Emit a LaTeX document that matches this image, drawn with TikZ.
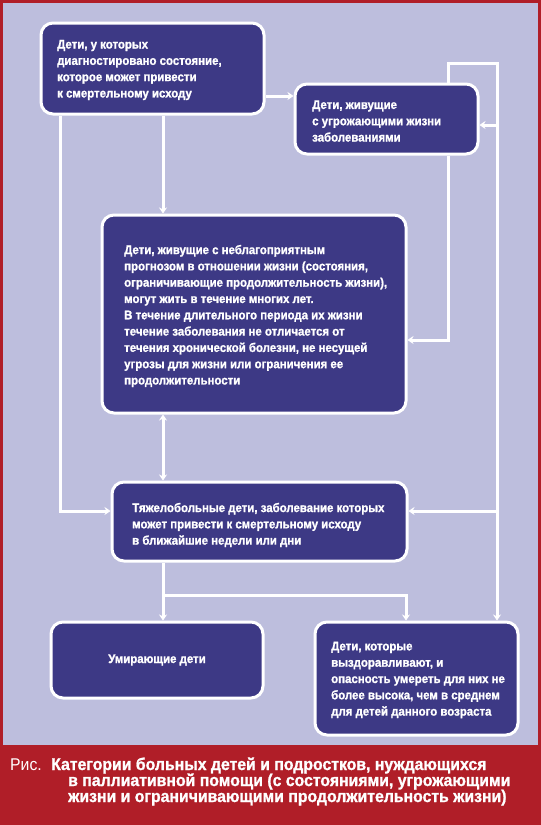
\documentclass[tikz,border=0pt]{standalone}
\usepackage{fontspec}
\setmainfont{Liberation Sans}
\newfontfamily\bx[FakeStretch=0.915, BoldFeatures={FakeBold=1.2}]{Liberation Sans}
\newfontfamily\cx[FakeStretch=0.93, BoldFeatures={FakeBold=1.2}]{Liberation Sans}
\usetikzlibrary{arrows.meta}
\definecolor{lav}{RGB}{189,190,221}
\definecolor{navy}{RGB}{61,57,133}
\definecolor{redd}{RGB}{176,30,40}
\begin{document}
\begin{tikzpicture}[x=1pt,y=-1pt,
  box/.style={draw=white, line width=3pt, fill=navy, rounded corners=12pt, inner sep=0pt},
  txt/.style={text=white, align=left, inner sep=0pt, anchor=west,
    font=\bx\bfseries\fontsize{12.5}{16.3}\selectfont},
  conn/.style={draw=white, line width=3pt, -{Stealth[length=6pt,width=8pt]}},
  dconn/.style={draw=white, line width=3pt, {Stealth[length=6pt,width=8pt]}-{Stealth[length=6pt,width=8pt]}},
  captxt/.style={text=white, inner sep=0pt, anchor=base west, font=\cx\bfseries\fontsize{17}{16.3}\selectfont}]
\useasboundingbox (0,0) rectangle (541,825);
\fill[redd] (0,0) rectangle (541,825);
\fill[lav] (3,3) rectangle (538,745);

% boxes
\node[box, minimum width=223pt, minimum height=91pt] (A) at (152.5,68.5) {};
\node[box, minimum width=183pt, minimum height=70pt] (B) at (386.5,119) {};
\node[box, minimum width=304pt, minimum height=198pt] (C) at (254,314) {};
\node[box, minimum width=295pt, minimum height=79pt] (D) at (259.5,521.5) {};
\node[box, minimum width=212pt, minimum height=76pt, text=white,
  font=\bx\bfseries\fontsize{12.5}{16.3}\selectfont] (E) at (157,660) {Умирающие дети};
\node[box, minimum width=203pt, minimum height=113pt] (F) at (416.5,678.5) {};

% texts
\node[txt] (At) at (57,70) {Дети, у которых\\диагностировано состояние,\\которое может привести\\к смертельному исходу};
\node[txt] (Bt) at (312,121) {Дети, живущие\\с угрожающими жизни\\заболеваниями};
\node[txt] (Ct) at (124,316) {Дети, живущие с неблагоприятным\\прогнозом в отношении жизни (состояния,\\ограничивающие продолжительность жизни),\\могут жить в течение многих лет.\\В течение длительного периода их жизни\\течение заболевания не отличается от\\течения хронической болезни, не несущей\\угрозы для жизни или ограничения ее\\продолжительности};
\node[txt] (Dt) at (132,525) {Тяжелобольные дети, заболевание которых\\может привести к смертельному исходу\\в ближайшие недели или дни};
\node[txt] (Ft) at (331,680) {Дети, которые\\выздоравливают, и\\опасность умереть для них не\\более высока, чем в среднем\\для детей данного возраста};

% junction coordinates
\coordinate (jB) at (497,125);
\coordinate (jD) at (497,511);
\coordinate (jL) at (60,511);
\coordinate (jE) at (163,595);
\coordinate (jC) at (448,340);

% connectors
\draw[conn] (A.east |- 0,96) -- (B.west |- 0,96);
\draw[conn] (A.south -| 163,0) -- (C.north -| 163,0);
\draw[conn] (A.south -| 60,0) -- (jL) -- (D.west |- jL);
\draw[conn] (B.south -| jC) -- (jC) -- (C.east |- jC);
\draw[conn] (B.north -| 448,0) -- (448,63) -- (497,63) -- (F.north -| 497,0);
\draw[conn] (jB) -- (B.east |- jB);
\draw[conn] (jD) -- (D.east |- jD);
\draw[dconn] (C.south -| 163,0) -- (D.north -| 163,0);
\draw[conn] (D.south -| 163,0) -- (E.north -| 163,0);
\draw[conn] (jE) -- (406,595) -- (F.north -| 406,0);

% caption
\node[captxt, font=\cx\fontsize{17}{16.3}\selectfont] (cr) at (10,770) {Рис.};
\node[captxt] (c1) at (51,770) {Категории больных детей и подростков, нуждающихся};
\node[captxt] (c2) at (68,786) {в паллиативной помощи (с состояниями, угрожающими};
\node[captxt] (c3) at (68,802) {жизни и ограничивающими продолжительность жизни)};
\end{tikzpicture}
\end{document}
